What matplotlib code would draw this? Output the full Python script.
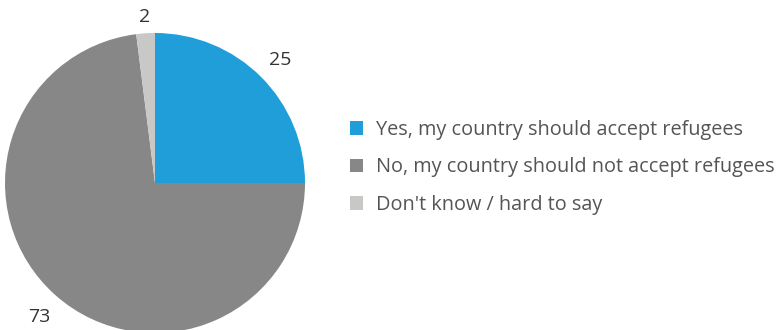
import matplotlib
matplotlib.use("Agg")
import matplotlib.pyplot as plt
import numpy as np
from matplotlib.patches import Patch

categories = ["Yes, my country should accept refugees",
              "No, my country should not accept refugees",
              "Don't know / hard to say"]
values = [25, 73, 2]
colors = ["#1f9ed9", "#878787", "#c8c8c7"]
label_radius = [1.18, 1.17, 1.12]

plt.rcParams['font.family'] = ['Open Sans', 'DejaVu Sans']

W, H = 782, 330
fig = plt.figure(figsize=(W / 100, H / 100), dpi=100)
cx, cy, r = 155, 183, 150
ax = fig.add_axes([(cx - r) / W, (H - cy - r) / H, 2 * r / W, 2 * r / H])
wedges, _ = ax.pie(values, colors=colors, startangle=90, counterclock=False,
                   radius=1, wedgeprops=dict(linewidth=0))
ax.set_xlim(-1, 1)
ax.set_ylim(-1, 1)
ax.set_aspect('equal')
ax.axis('off')
for w, v, lr in zip(wedges, values, label_radius):
    ang = np.deg2rad((w.theta1 + w.theta2) / 2)
    ax.text(lr * np.cos(ang), lr * np.sin(ang), str(v), ha='center',
            va='center_baseline', fontsize=14, color='#333333', clip_on=False)

handles = [Patch(facecolor=c, edgecolor='none') for c in colors]
leg = fig.legend(handles, categories, loc='upper left',
                 bbox_to_anchor=(350 / W, 1 - 120 / H), frameon=False,
                 fontsize=14.3, labelcolor='#555555', handlelength=0.65,
                 handleheight=0.65, handletextpad=0.68, labelspacing=0.88,
                 borderaxespad=0, borderpad=0)

fig.savefig("out.png", dpi=100)
